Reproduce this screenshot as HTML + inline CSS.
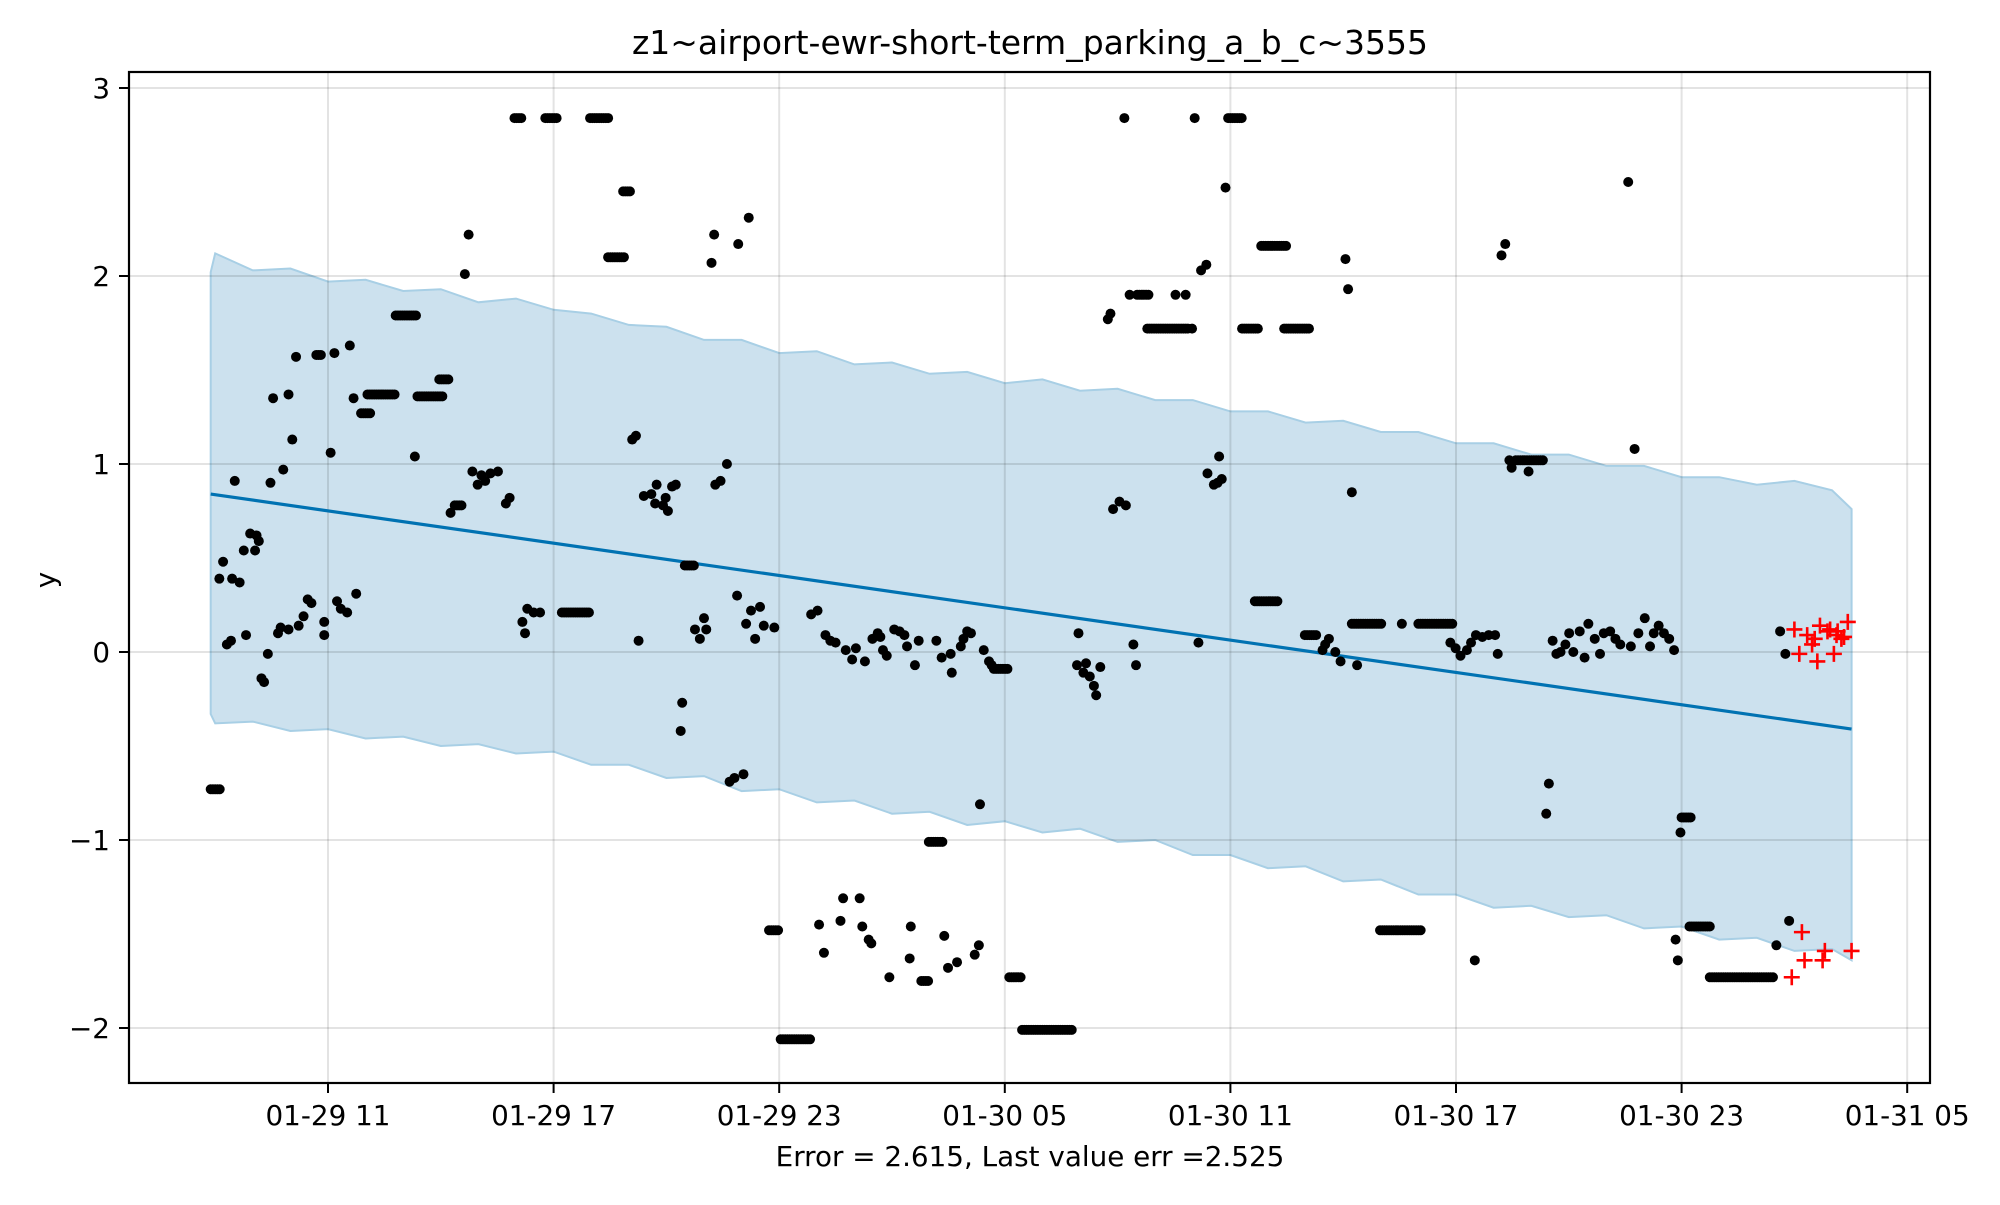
<!DOCTYPE html>
<html><head><meta charset="utf-8"><style>
html,body{margin:0;padding:0;background:#fff;}
svg text{font-family:"DejaVu Sans","Liberation Sans",sans-serif;fill:#000;}
</style></head><body>
<svg id="chart" xmlns="http://www.w3.org/2000/svg" width="2000" height="1200" viewBox="0 0 2000 1200">
<rect width="2000" height="1200" fill="#fff"/>
<g id="band"></g>
<g id="grid"></g>
<g id="trend"></g>
<g id="obs"></g>
<g id="test"></g>
<rect x="129" y="72" width="1801" height="1011" fill="none" stroke="#000" stroke-width="2.2"/>
<g id="xticks"></g>
<g id="yticks"></g>
<text x="1030" y="54" font-size="33" text-anchor="middle">z1~airport-ewr-short-term_parking_a_b_c~3555</text>
<text x="1030" y="1166" font-size="27.8" text-anchor="middle">Error = 2.615, Last value err =2.525</text>
<text x="0" y="0" font-size="27.8" text-anchor="middle" transform="translate(55,580) rotate(-90)">y</text>
</svg>
<script>
// time unit: hours since 01-29 00:00
const xTickHours = [11,17,23,29,35,41,47,53];
const xTickLabels = ["01-29 11","01-29 17","01-29 23","01-30 05","01-30 11","01-30 17","01-30 23","01-31 05"];
const yTickValues = [-2,-1,0,1,2,3];
const yTickLabels = ["\u22122","\u22121","0","1","2","3"];
const trendStart = [7.88, 0.84];
const trendEnd = [51.52, -0.41];
const bandHours = [7.88,8,9,10,11,12,13,14,15,16,17,18,19,20,21,22,23,24,25,26,27,28,29,30,31,32,33,34,35,36,37,38,39,40,41,42,43,44,45,46,47,48,49,50,51,51.52];
const bandUpper = [2.02,2.12,2.03,2.04,1.97,1.98,1.92,1.93,1.86,1.88,1.82,1.80,1.74,1.73,1.66,1.66,1.59,1.60,1.53,1.54,1.48,1.49,1.43,1.45,1.39,1.40,1.34,1.34,1.28,1.28,1.22,1.23,1.17,1.17,1.11,1.11,1.05,1.05,0.99,0.99,0.93,0.93,0.89,0.91,0.86,0.76];
const bandLower = [-0.33,-0.38,-0.37,-0.42,-0.41,-0.46,-0.45,-0.50,-0.49,-0.54,-0.53,-0.60,-0.60,-0.67,-0.66,-0.74,-0.73,-0.80,-0.79,-0.86,-0.85,-0.92,-0.90,-0.96,-0.94,-1.01,-1.00,-1.08,-1.08,-1.15,-1.14,-1.22,-1.21,-1.29,-1.29,-1.36,-1.35,-1.41,-1.40,-1.47,-1.46,-1.53,-1.52,-1.59,-1.58,-1.64];
const obsHours = [8.21,8.11,8.45,8.65,8.52,8.31,8.42,8.82,8.76,8.93,9.10,9.16,9.06,9.23,9.30,9.40,9.47,9.54,9.67,9.74,9.81,9.95,10.05,10.15,9.95,10.22,10.35,10.46,10.56,10.90,10.90,11.07,11.17,11.24,11.34,11.51,11.58,11.68,11.75,13.31,14.26,14.64,14.74,14.84,14.98,15.08,15.18,15.32,15.52,15.73,15.83,16.17,16.24,16.30,16.47,16.64,19.09,19.19,19.26,19.40,19.60,19.74,19.70,19.91,20.04,20.15,19.98,20.25,20.42,20.38,20.76,20.89,21.00,21.06,21.20,21.27,21.30,21.44,21.61,21.68,21.81,21.88,21.91,22.05,22.12,22.19,22.25,22.36,22.49,22.59,22.87,23.85,24.02,24.06,24.19,24.23,24.36,24.50,24.63,24.70,24.77,24.94,25.04,25.14,25.21,25.28,25.38,25.45,25.48,25.62,25.69,25.76,25.86,25.93,26.06,26.20,26.33,26.40,26.50,26.47,26.61,26.71,27.18,27.32,27.39,27.49,27.56,27.59,27.73,27.83,27.90,28.00,28.10,28.20,28.31,28.34,28.44,28.58,28.65,30.92,30.96,31.09,31.16,31.26,31.37,31.43,31.54,31.74,31.81,31.88,32.05,32.18,32.22,32.32,32.42,32.49,33.54,33.81,33.98,34.05,34.15,34.22,34.36,34.39,34.56,34.66,34.70,34.77,34.87,37.45,37.52,37.62,37.79,37.93,38.06,38.13,38.23,38.37,39.56,40.85,40.99,41.12,41.29,41.40,41.50,41.53,41.70,41.87,42.04,42.11,42.21,42.31,42.42,42.48,42.93,43.40,43.47,43.57,43.67,43.78,43.91,44.01,44.12,44.29,44.42,44.52,44.69,44.83,44.93,45.10,45.24,45.37,45.58,45.65,45.75,45.85,46.02,46.16,46.26,46.39,46.53,46.67,46.80,46.84,46.90,46.97,49.52,49.62,49.76,49.86];
const obsValues = [0.48,0.39,0.39,0.37,0.91,0.04,0.06,0.09,0.54,0.63,0.62,0.59,0.54,-0.14,-0.16,-0.01,0.90,1.35,0.10,0.13,0.97,1.37,1.13,1.57,0.12,0.14,0.19,0.28,0.26,0.16,0.09,1.06,1.59,0.27,0.23,0.21,1.63,1.35,0.31,1.04,0.74,2.01,2.22,0.96,0.89,0.94,0.91,0.95,0.96,0.79,0.82,0.16,0.10,0.23,0.21,0.21,1.13,1.15,0.06,0.83,0.84,0.89,0.79,0.78,0.75,0.88,0.82,0.89,-0.27,-0.42,0.12,0.07,0.18,0.12,2.07,2.22,0.89,0.91,1.00,-0.69,-0.67,0.30,2.17,-0.65,0.15,2.31,0.22,0.07,0.24,0.14,0.13,0.20,0.22,-1.45,-1.60,0.09,0.06,0.05,-1.43,-1.31,0.01,-0.04,0.02,-1.31,-1.46,-0.05,-1.53,-1.55,0.07,0.10,0.08,0.01,-0.02,-1.73,0.12,0.11,0.09,0.03,-1.46,-1.63,-0.07,0.06,0.06,-0.03,-1.51,-1.68,-0.01,-0.11,-1.65,0.03,0.07,0.11,0.10,-1.61,-1.56,-0.81,0.01,-0.05,-0.07,-0.07,0.10,-0.11,-0.06,-0.13,-0.18,-0.23,-0.08,1.77,1.80,0.76,0.80,2.84,0.78,1.90,0.04,-0.07,1.90,1.90,1.72,2.84,0.05,2.03,2.06,0.95,0.89,0.90,1.04,0.92,2.47,0.01,0.04,0.07,0.00,-0.05,2.09,1.93,0.85,-0.07,0.15,0.05,0.02,-0.02,0.01,0.05,-1.64,0.09,0.08,0.09,0.09,-0.01,2.11,2.17,1.02,0.98,0.96,-0.86,-0.70,0.06,-0.01,0.00,0.04,0.10,0.00,0.11,-0.03,0.15,0.07,-0.01,0.10,0.11,0.07,0.04,2.50,0.03,1.08,0.10,0.18,0.03,0.10,0.14,0.10,0.07,0.01,-1.53,-1.64,-0.96,-1.56,0.11,-0.01,-1.43];
// runs of consecutive observations at a constant value
const runStart = [7.88,10.69,11.88,12.05,12.80,13.38,13.96,14.37,15.96,16.78,17.22,17.97,18.45,18.85,20.49,22.73,23.04,26.78,26.98,28.71,29.12,29.46,32.52,32.79,34.94,35.31,35.65,35.82,36.43,36.98,38.23,38.98,40.00,42.59,47.00,47.21,47.75];
const runEnd = [8.15,10.83,12.12,12.80,13.35,14.09,14.23,14.57,16.17,17.09,17.97,18.48,18.92,19.06,20.76,23.00,23.85,27.01,27.35,29.12,29.46,30.82,32.86,33.88,35.31,35.75,36.26,36.50,37.11,37.32,39.05,40.07,40.95,43.31,47.28,47.75,49.45];
const runValue = [-0.73,1.58,1.27,1.37,1.79,1.36,1.45,0.78,2.84,2.84,0.21,2.84,2.10,2.45,0.46,-1.48,-2.06,-1.75,-1.01,-0.09,-1.73,-2.01,1.90,1.72,2.84,1.72,0.27,2.16,1.72,0.09,0.15,-1.48,0.15,1.02,-0.88,-1.46,-1.73];
const testHours = [49.93,50.00,50.13,50.20,50.27,50.34,50.47,50.54,50.61,50.68,50.75,50.81,50.88,50.95,51.05,51.12,51.15,51.25,51.32,51.42,51.52];
const testValues = [-1.73,0.12,-0.01,-1.49,-1.64,0.09,0.04,0.07,-0.05,0.14,-1.64,-1.59,0.11,0.12,-0.01,0.09,0.11,0.07,0.08,0.16,-1.59];

const NS = "http://www.w3.org/2000/svg";
const X0 = 328, XH = 37.6, Y0 = 652, YU = 188;
function xs(h){ return X0 + (h - 11) * XH; }
function ys(v){ return Y0 - v * YU; }
function mk(tag, attrs, parent){
  const e = document.createElementNS(NS, tag);
  for (const k in attrs) e.setAttribute(k, attrs[k]);
  parent.appendChild(e);
  return e;
}
const grid = document.getElementById('grid');
const xt = document.getElementById('xticks');
const yt = document.getElementById('yticks');
xTickHours.forEach((h, i) => {
  const x = xs(h);
  const g = mk('line', {x1:x, x2:x, y1:72, y2:1083, stroke:'rgba(0,0,0,0.11)', 'stroke-width':2}, grid);
  
  
  const t = mk('line', {x1:x, x2:x, y1:1083, y2:1093, stroke:'#000', 'stroke-width':2}, xt);
  
  
  const l = mk('text', {x:x, y:1125, 'font-size':27.8, 'text-anchor':'middle'}, xt);
  l.textContent = xTickLabels[i];
  
  
});
yTickValues.forEach((v, i) => {
  const y = ys(v);
  const g = mk('line', {x1:129, x2:1930, y1:y, y2:y, stroke:'rgba(0,0,0,0.11)', 'stroke-width':2}, grid);
  
  
  const t = mk('line', {x1:119, x2:129, y1:y, y2:y, stroke:'#000', 'stroke-width':2}, yt);
  
  
  const l = mk('text', {x:110, y:y + 10, 'font-size':27.8, 'text-anchor':'end'}, yt);
  l.textContent = yTickLabels[i];
  
  
});
// band
const band = document.getElementById('band');
let d = '';
bandHours.forEach((h, i) => { d += (i ? 'L' : 'M') + xs(h).toFixed(1) + ',' + ys(bandUpper[i]).toFixed(1); });
for (let i = bandHours.length - 1; i >= 0; i--) d += 'L' + xs(bandHours[i]).toFixed(1) + ',' + ys(bandLower[i]).toFixed(1);
d += 'Z';
const bp = mk('path', {d:d, fill:'#cce1ee', stroke:'#a8cfe5', 'stroke-width':2}, band);


// trend
const tl = mk('line', {x1:xs(trendStart[0]), y1:ys(trendStart[1]), x2:xs(trendEnd[0]), y2:ys(trendEnd[1]), stroke:'#0072B2', 'stroke-width':3.2}, document.getElementById('trend'));


// observations
const obs = document.getElementById('obs');
obsHours.forEach((h, i) => {
  const c = mk('circle', {cx:xs(h), cy:ys(obsValues[i]), r:5, fill:'#000'}, obs);
  
  
});
runStart.forEach((s, i) => {
  for (let h = s; h <= runEnd[i] + 1e-6; h += 0.06) {
    const c = mk('circle', {cx:xs(h), cy:ys(runValue[i]), r:5, fill:'#000'}, obs);
    
    
  }
});
// test points
const test = document.getElementById('test');
testHours.forEach((h, i) => {
  const x = xs(h), y = ys(testValues[i]);
  const p = mk('path', {d:`M${x-8},${y}H${x+8}M${x},${y-8}V${y+8}`, stroke:'#ff0000', 'stroke-width':2.6, fill:'none'}, test);
  
  
});
</script>
</body></html>
